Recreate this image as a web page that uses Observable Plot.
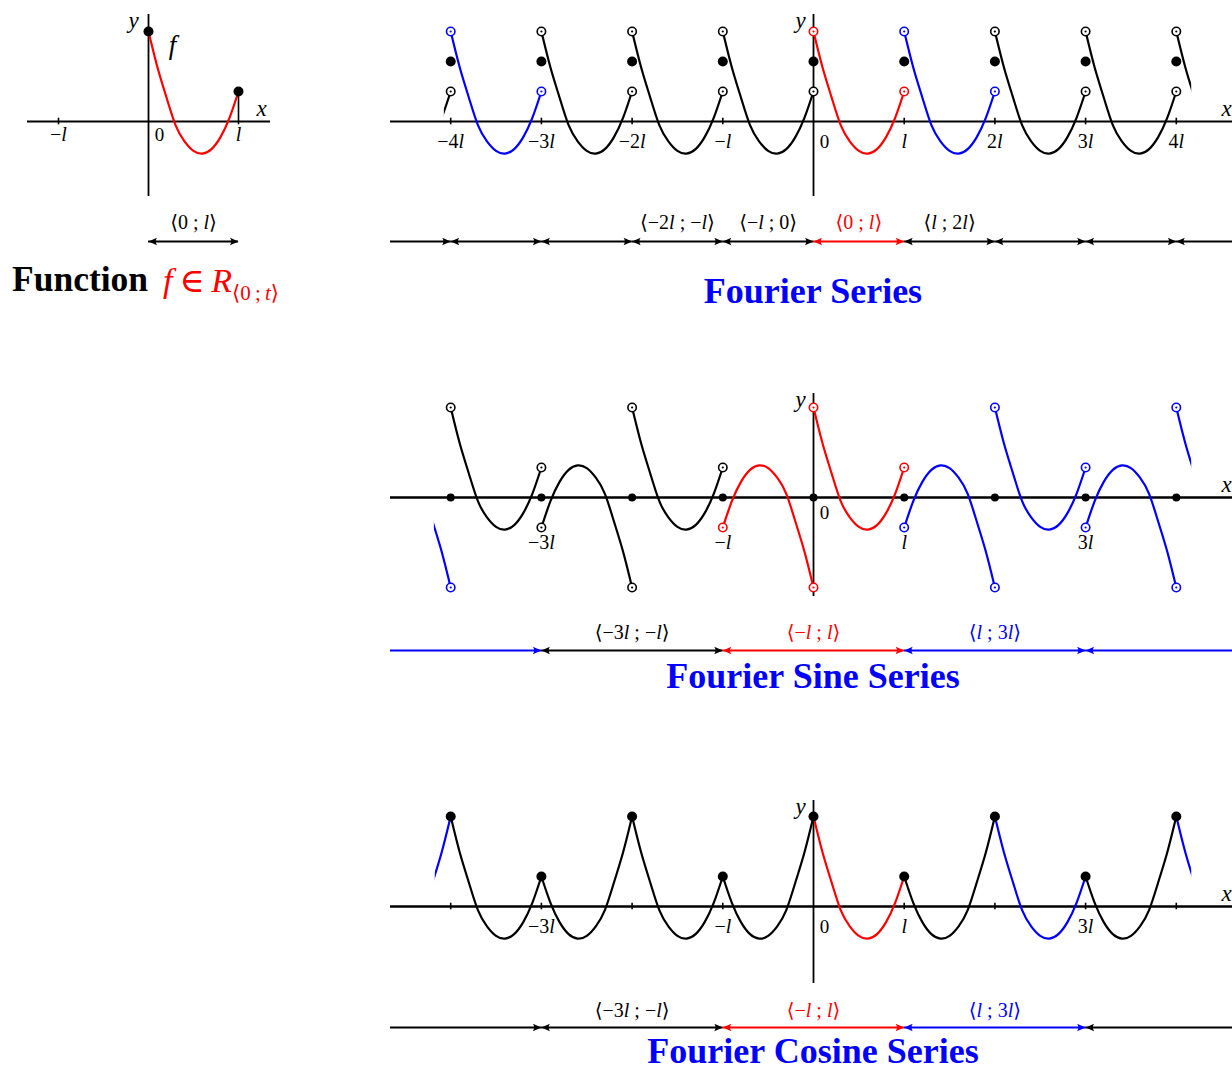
<!DOCTYPE html>
<html>
<head>
<meta charset="utf-8">
<script src="https://cdn.jsdelivr.net/npm/d3@7"></script>
<script src="https://cdn.jsdelivr.net/npm/@observablehq/plot@0.6"></script>
<style>
  body { margin: 0; background: #fff; }
  #root { position: relative; width: 1232px; height: 1072px; overflow: hidden; background: #fff;
          font-family: "Liberation Serif", "DejaVu Serif", serif; }
  .panel { position: absolute; left: 0; }
  .title { position: absolute; font-weight: bold; color: #0000ff; font-size: 36px; line-height: 32px;
           white-space: nowrap; text-align: center; width: 500px; }
  .fn { position: absolute; left: 12px; top: 262px; font-size: 35.5px; line-height: 1; white-space: nowrap; }
  .fnred { position: absolute; left: 163px; top: 264px; font-size: 34px; line-height: 1; color: #ff0000; white-space: nowrap; }
  .fnred sub { font-size: 21px; vertical-align: -8px; }
</style>
</head>
<body>
<div id="root"></div>
<script>
// ---------- data ----------
// f on <0; l>, sampled at t (in units of l); values in units of the y scale
const fT = [0, 0.1, 0.2, 0.3, 0.4, 0.5, 0.6, 0.7, 0.8, 0.9, 1];
const fY = [3, 1.8, 0.8, -0.12, -0.66, -0.98, -1.07, -0.92, -0.52, 0.12, 1];

// unit pieces [k, k+1] of each extension and their colour role
const pieceStarts  = [-5, -4, -3, -2, -1, 0, 1, 2, 3, 4];
const fourierRoles = ["other", "copy", "other", "other", "other", "base", "copy", "other", "other", "other"];
const sineRoles    = ["copy", "other", "other", "other", "base", "base", "copy", "copy", "copy", "copy"];
const cosineRoles  = ["copy", "other", "other", "other", "other", "base", "other", "copy", "other", "copy"];
const smallRoles   = [null, null, null, null, null, "base", null, null, null, null];

// interval rows under each panel
const smallIntervals = [{from: 0, to: 1, role: "other", labeled: true}];
const fourierIntervals = [
  {from: null, to: -4, role: "other"}, {from: -4, to: -3, role: "other"}, {from: -3, to: -2, role: "other"},
  {from: -2, to: -1, role: "other", labeled: true}, {from: -1, to: 0, role: "other", labeled: true},
  {from: 0, to: 1, role: "base", labeled: true}, {from: 1, to: 2, role: "other", labeled: true},
  {from: 2, to: 3, role: "other"}, {from: 3, to: 4, role: "other"}, {from: 4, to: null, role: "other"}
];
const sineIntervals = [
  {from: null, to: -3, role: "copy"}, {from: -3, to: -1, role: "other", labeled: true},
  {from: -1, to: 1, role: "base", labeled: true}, {from: 1, to: 3, role: "copy", labeled: true},
  {from: 3, to: null, role: "copy"}
];
const cosineIntervals = [
  {from: null, to: -3, role: "other"}, {from: -3, to: -1, role: "other", labeled: true},
  {from: -1, to: 1, role: "base", labeled: true}, {from: 1, to: 3, role: "copy", labeled: true},
  {from: 3, to: null, role: "other"}
];

// tick positions and labels (multiples of l)
const smallTicks = [-1];
const smallTickLabels = [-1, 1];
const fourierTicks = [-4, -3, -2, -1, 1, 2, 3, 4];
const fourierTickLabels = [-4, -3, -2, -1, 1, 2, 3, 4];
const sineTicks = [];
const sineTickLabels = [-3, -1, 1, 3];
const cosineTicks = [-4, -3, -2, -1, 1, 2, 3, 4];
const cosineTickLabels = [-3, -1, 1, 3];

const titles = ["Fourier Series", "Fourier Sine Series", "Fourier Cosine Series"];

// ---------- helpers ----------
const PY = 30;
const roleColor = {domain: ["base", "copy", "other"], range: ["#ff0000", "#0000ff", "#000000"]};

function fmtL(k) {
  if (k === 0) return "0";
  if (k === 1) return "l";
  if (k === -1) return "\u2212l";
  return (k < 0 ? "\u2212" : "") + Math.abs(k) + "l";
}

function buildPieces(kind, roles) {
  const pts = [];
  pieceStarts.forEach((k, j) => {
    if (!roles[j]) return;
    const reflect = kind !== "periodic" && Math.abs(k) % 2 === 1;
    const sign = kind === "odd" && reflect ? -1 : 1;
    fT.forEach((t, i) => pts.push({piece: k, role: roles[j], x: reflect ? k + 1 - t : k + t, y: sign * fY[i]}));
  });
  pts.sort((a, b) => a.piece - b.piece || a.x - b.x);
  return pts;
}

function limits(pts, kmin, kmax) {
  const out = [];
  for (let k = kmin; k <= kmax; k++) {
    const L = pts.filter(p => p.piece === k - 1 && p.x === k)[0];
    const R = pts.filter(p => p.piece === k && p.x === k)[0];
    out.push({k, L, R});
  }
  return out;
}

const headRight = {draw(ctx) { ctx.moveTo(0, 0); ctx.lineTo(-8.5, -3.7); ctx.quadraticCurveTo(-6, 0, -8.5, 3.7); ctx.closePath(); }};
const headLeft  = {draw(ctx) { ctx.moveTo(0, 0); ctx.lineTo(8.5, -3.7); ctx.quadraticCurveTo(6, 0, 8.5, 3.7); ctx.closePath(); }};

function italicize(svg) {
  const ns = "http://www.w3.org/2000/svg";
  svg.querySelectorAll("text").forEach(el => {
    const s = el.textContent;
    if (!/[a-z]/.test(s)) return;
    const parts = s.split(/([a-z]+)/).filter(p => p.length);
    el.textContent = "";
    for (const p of parts) {
      const t = document.createElementNS(ns, "tspan");
      if (/^[a-z]+$/.test(p)) t.setAttribute("font-style", "italic");
      t.textContent = p;
      el.appendChild(t);
    }
  });
}

const FONT = "Liberation Serif, DejaVu Serif, serif";

function panel(cfg) {
  const PX = cfg.px;
  const H = cfg.height;
  const axisLocal = cfg.axisY - cfg.top;
  const toX = px => (px - cfg.origin) / PX;
  const toY = py => (cfg.axisY - py) / PY;
  const marginLeft = cfg.origin + PX * cfg.range[0];
  const marginRight = cfg.width - (cfg.origin + PX * cfg.range[1]);
  const pts = buildPieces(cfg.kind, cfg.roles);
  const lim = cfg.kind ? limits(pts, -4, 4) : [];
  const open = [];
  const filled = [];
  if (cfg.kind) {
    for (const d of lim) {
      if (d.L.y !== d.R.y) {
        open.push({x: d.k, y: d.L.y, role: d.L.role});
        open.push({x: d.k, y: d.R.y, role: d.R.role});
      }
      filled.push({x: d.k, y: (d.L.y + d.R.y) / 2});
    }
  } else {
    const p0 = pts[0], p1 = pts[pts.length - 1];
    filled.push({x: p0.x, y: p0.y}, {x: p1.x, y: p1.y});
  }
  const edgeL = toX(cfg.xAxis[0]), edgeR = toX(cfg.xAxis[1]);
  const rowY = toY(cfg.rowY), labY = toY(cfg.labelY);
  const iv = cfg.intervals;
  const marks = [
    Plot.ruleY([0], {x1: edgeL, x2: edgeR, stroke: "black", strokeWidth: cfg.axisWidth}),
    Plot.ruleX([0], {y1: toY(cfg.yAxis[1]), y2: toY(cfg.yAxis[0]), stroke: "black", strokeWidth: 1.8}),
    Plot.ruleX(cfg.ticks, {x: d => d, y1: -0.11, y2: 0.11, stroke: "black", strokeWidth: 1.6}),
    Plot.line(pts, {x: "x", y: "y", z: "piece", stroke: "role", strokeWidth: 2.2, curve: "natural", clip: true}),
    // interval rows
    Plot.ruleY(iv, {y: () => rowY, x1: d => d.from ?? edgeL, x2: d => d.to ?? edgeR, stroke: "role", strokeWidth: 2}),
    Plot.dot(iv.filter(d => d.to !== null), {x: "to", y: () => rowY, symbol: headRight, fill: "role", stroke: "none"}),
    Plot.dot(iv.filter(d => d.from !== null), {x: "from", y: () => rowY, symbol: headLeft, fill: "role", stroke: "none"}),
    Plot.text(iv.filter(d => d.labeled), {x: d => (d.from + d.to) / 2, y: () => labY,
      text: d => `\u27E8${fmtL(d.from)} ; ${fmtL(d.to)}\u27E9`, fill: "role", fontSize: 20, fontFamily: FONT}),
    // limits
    Plot.dot(filled, {x: "x", y: "y", r: cfg.filledR, fill: "black", stroke: "none"}),
    Plot.dot(open, {x: "x", y: "y", r: 4.2, fill: "white", stroke: "role", strokeWidth: 1.6}),
    Plot.dot(open, {x: "x", y: "y", r: 1.1, fill: "role", stroke: "none"}),
    // tick labels
    Plot.text(cfg.tickLabels, {x: d => d, y: () => 0, dy: cfg.tickDy, text: d => fmtL(d), fontSize: 20, fontFamily: FONT, fill: "black"}),
    Plot.text(["0"], {x: () => 0, y: () => 0, dx: 11, dy: cfg.zeroDy, text: d => d, fontSize: 19, fontFamily: FONT, fill: "black"}),
    Plot.text(["y"], {x: () => 0, y: () => toY(cfg.yAxis[0]), dx: cfg.yDx, dy: 6, text: d => d, fontSize: 23, fontFamily: FONT, fill: "black"}),
    Plot.text(["x"], {x: () => toX(cfg.xLabel), y: () => 0, dy: -13, text: d => d, fontSize: 23, fontFamily: FONT, fill: "black"})
  ];
  if (cfg.extra) marks.push(...cfg.extra(toX, toY));
  const svg = Plot.plot({
    width: cfg.width, height: H,
    marginLeft, marginRight, marginTop: 0, marginBottom: 0,
    x: {domain: cfg.range, axis: null},
    y: {domain: [(axisLocal - H) / PY, axisLocal / PY], axis: null},
    color: roleColor,
    style: {background: "transparent", maxWidth: "none", overflow: "visible"},
    marks
  });
  italicize(svg);
  const div = document.createElement("div");
  div.className = "panel";
  div.style.top = cfg.top + "px";
  div.appendChild(svg);
  document.getElementById("root").appendChild(div);
}

// ---------- panels ----------
panel({
  kind: null, roles: smallRoles, intervals: smallIntervals, ticks: smallTicks, tickLabels: smallTickLabels,
  px: 90, top: 0, height: 262, width: 300, origin: 148, axisY: 121, range: [-1.5, 1.5],
  xAxis: [27, 270], yAxis: [14, 196], rowY: 241, labelY: 222, tickDy: 13, zeroDy: 13,
  axisWidth: 2, filledR: 5, yDx: -15, xLabel: 261,
  extra: (toX, toY) => [
    Plot.ruleX([fT[fT.length - 1]], {x: d => d, y1: -0.11, y2: fY[fY.length - 1], stroke: "black", strokeWidth: 1.6}),
    Plot.text(["f"], {x: () => toX(172), y: () => toY(45), text: d => d, fontSize: 27, fontFamily: FONT, fill: "black"})
  ]
});
panel({
  kind: "periodic", roles: fourierRoles, intervals: fourierIntervals, ticks: fourierTicks, tickLabels: fourierTickLabels,
  px: 90.7, top: 0, height: 262, width: 1260, origin: 813, axisY: 121, range: [-4.07, 4.17],
  xAxis: [390, 1260], yAxis: [14, 196], rowY: 241, labelY: 222, tickDy: 20, zeroDy: 20,
  axisWidth: 2, filledR: 5, yDx: -13, xLabel: 1226
});
panel({
  kind: "odd", roles: sineRoles, intervals: sineIntervals, ticks: sineTicks, tickLabels: sineTickLabels,
  px: 90.7, top: 380, height: 290, width: 1260, origin: 813, axisY: 497, range: [-4.18, 4.17],
  xAxis: [390, 1260], yAxis: [393, 596], rowY: 650, labelY: 632, tickDy: 45, zeroDy: 15,
  axisWidth: 2.6, filledR: 4, yDx: -13, xLabel: 1226
});
panel({
  kind: "even", roles: cosineRoles, intervals: cosineIntervals, ticks: cosineTicks, tickLabels: cosineTickLabels,
  px: 90.7, top: 790, height: 250, width: 1260, origin: 813, axisY: 906, range: [-4.17, 4.17],
  xAxis: [390, 1260], yAxis: [800, 983], rowY: 1027, labelY: 1010, tickDy: 20, zeroDy: 20,
  axisWidth: 2.6, filledR: 5, yDx: -13, xLabel: 1226
});

// ---------- titles ----------
const root = document.getElementById("root");
const titleBaselines = [303, 688, 1063];
titles.forEach((t, i) => {
  const d = document.createElement("div");
  d.className = "title";
  d.textContent = t;
  d.style.left = (813 - 250) + "px";
  d.style.top = (titleBaselines[i] - 28.2) + "px";
  root.appendChild(d);
});
const fn = document.createElement("div");
fn.className = "fn";
fn.innerHTML = "<b>Function</b>";
root.appendChild(fn);
const fr = document.createElement("div");
fr.className = "fnred";
fr.innerHTML = "<i>f</i>\u2009\u2208\u2009<i>R</i><sub>\u27E80\u2009;\u2009<i>t</i>\u27E9</sub>";
root.appendChild(fr);
</script>
</body>
</html>
